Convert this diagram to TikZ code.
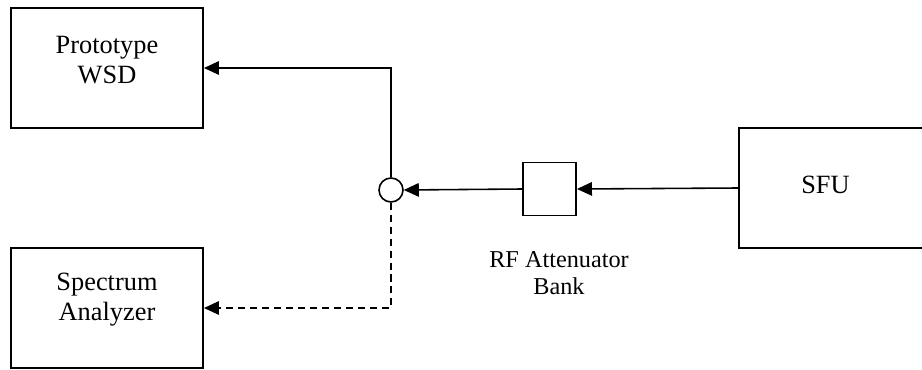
\documentclass[tikz,border=0pt]{standalone}
\usepackage{fontspec}
\setmainfont{Liberation Serif}
\usetikzlibrary{positioning, arrows.meta}
\tikzset{
	devicenode/.style={
			rectangle,
			draw=black,
			line width=1.1pt,
			fill=white,
			minimum width=38.4mm,
			minimum height=24mm,
			inner sep=0pt
		},
	attnode/.style={
			devicenode,
			minimum width=10.6mm,
			minimum height=10.6mm
		},
	splitnode/.style={
			circle,
			draw=black,
			line width=0.9pt,
			fill=white,
			minimum size=4.8mm,
			inner sep=0pt
		},
	textnode/.style={
			align=center,
			font=\fontsize{15}{17}\selectfont,
			inner sep=0pt
		},
	smalltextnode/.style={
			textnode,
			font=\fontsize{13.8}{15.4}\selectfont
		},
	signal/.style={
			line width=0.9pt,
			-{Triangle[length=3mm, width=2.7mm]}
		}
}
\begin{document}
\begin{tikzpicture}
\useasboundingbox (0,0) rectangle (18.44,7.38);
\clip (0,0) rectangle (18.44,7.38);

\node[devicenode] (wsd) at (2.14,6.02) {};
\node[devicenode] (analyzer) at (2.14,1.22) {};
\node[devicenode] (sfu) at (16.7,3.62) {};
\node[attnode] (att) at (10.99,3.6) {};
\node[splitnode] (split) at (7.82,3.58) {};

\node[textnode] at ([yshift=1.6mm]wsd.center) {Prototype\\WSD};
\node[textnode] at ([yshift=1.6mm]analyzer.center) {Spectrum\\Analyzer};
\node[textnode] at ([yshift=0.6mm, xshift=-1.9mm]sfu.center) {SFU};
\node[smalltextnode] (attlabel) at (11.18,1.91) {RF Attenuator\\Bank};

\draw[signal] (sfu.west) -- (att.east);
\draw[signal] (att.west) -- (split.east);
\draw[signal] (split.north) |- (wsd.east);
\draw[signal, dash pattern=on 4pt off 2.8pt] (split.south) |- (analyzer.east);
\end{tikzpicture}
\end{document}
